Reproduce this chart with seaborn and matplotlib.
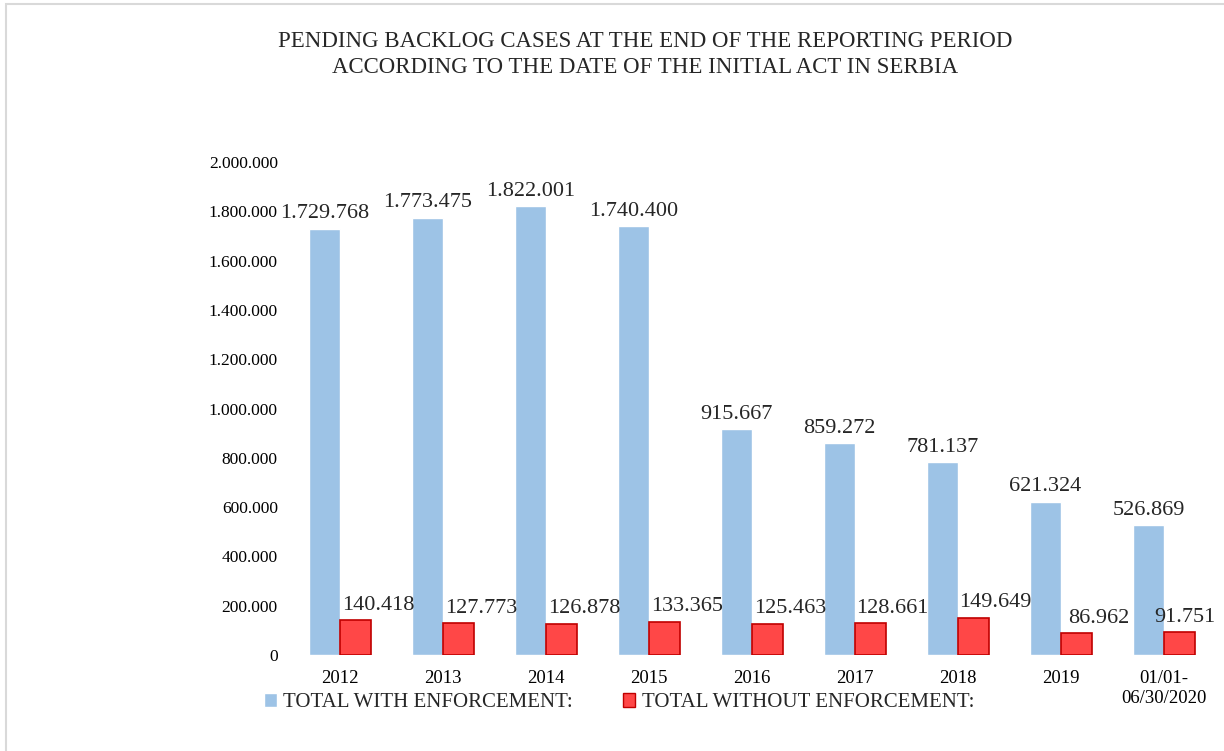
import pandas as pd
import matplotlib.pyplot as plt
import seaborn as sns
from matplotlib.patches import Rectangle
from matplotlib.ticker import FuncFormatter

# chart data
periods = ["2012", "2013", "2014", "2015", "2016", "2017", "2018", "2019", "01/01-\n06/30/2020"]
with_enf = [1729768, 1773475, 1822001, 1740400, 915667, 859272, 781137, 621324, 526869]
without_enf = [140418, 127773, 126878, 133365, 125463, 128661, 149649, 86962, 91751]
series_names = ["TOTAL WITH ENFORCEMENT:", "TOTAL WITHOUT ENFORCEMENT:"]
yticks = [0, 200000, 400000, 600000, 800000, 1000000, 1200000, 1400000, 1600000, 1800000, 2000000]

df = pd.DataFrame({
    "period": periods * 2,
    "cases": with_enf + without_enf,
    "series": [series_names[0]] * len(periods) + [series_names[1]] * len(periods),
})

def dots(v):
    return f"{int(v):,}".replace(",", ".")

sns.set_theme(style="white")
plt.rcParams["font.family"] = ["Liberation Serif", "DejaVu Serif"]

fig = plt.figure(figsize=(12.24, 7.51), dpi=100)
ax = fig.add_axes([0.236, 0.128, 0.757, 0.656])

colors = ["#9DC3E6", "#FF4747"]
sns.barplot(data=df, x="period", y="cases", hue="series", palette=colors,
            width=0.6, gap=0, ax=ax, legend=False, saturation=1)

# red bars get a dark red outline
for bar in ax.containers[1]:
    bar.set_edgecolor("#C00000")
    bar.set_linewidth(1.2)

# value labels
for bar, v in zip(ax.containers[0], with_enf):
    ax.annotate(dots(v), (bar.get_x() + bar.get_width() / 2, bar.get_height()), xytext=(0, 4),
                textcoords="offset points", ha="center", va="bottom", fontsize=16)
for i, (bar, v) in enumerate(zip(ax.containers[1], without_enf)):
    dx = 16 if i < len(periods) - 1 else 4
    ax.annotate(dots(v), (bar.get_x() + bar.get_width() / 2, bar.get_height()),
                xytext=(dx, 4), textcoords="offset points", ha="center", va="bottom",
                fontsize=16, annotation_clip=False)

ax.set_ylim(0, 2000000)
ax.set_xlim(-0.5, len(periods) - 0.5)
ax.set_yticks(yticks)
ax.yaxis.set_major_formatter(FuncFormatter(lambda v, p: dots(v)))
ax.tick_params(axis="both", length=0, colors="black")
ax.tick_params(axis="y", pad=8, labelsize=12.5)
ax.tick_params(axis="x", pad=11, labelsize=13.5)
ax.set_xlabel("")
ax.set_ylabel("")
sns.despine(ax=ax, left=True, bottom=True)

fig.text(0.527, 0.927, "PENDING BACKLOG CASES AT THE END OF THE REPORTING PERIOD\n"
         "ACCORDING TO THE DATE OF THE INITIAL ACT IN SERBIA",
         ha="center", va="center", fontsize=16.5, linespacing=1.3)

handles = [Rectangle((0, 0), 1, 1, facecolor=colors[0]),
           Rectangle((0, 0), 1, 1, facecolor=colors[1], edgecolor="#C00000", linewidth=1)]
fig.legend(handles, series_names, loc="center", bbox_to_anchor=(0.506, 0.064), ncol=2,
           frameon=False, fontsize=15, handlelength=0.6, handleheight=0.6,
           handletextpad=0.3, columnspacing=2.4)

# light frame round the chart area
fig.patches.append(Rectangle((0.005, -0.01), 1.0, 1 - 0.005 + 0.01, transform=fig.transFigure,
                             fill=False, edgecolor="#D9D9D9", linewidth=1.5))

fig.savefig("out.png", dpi=100)
